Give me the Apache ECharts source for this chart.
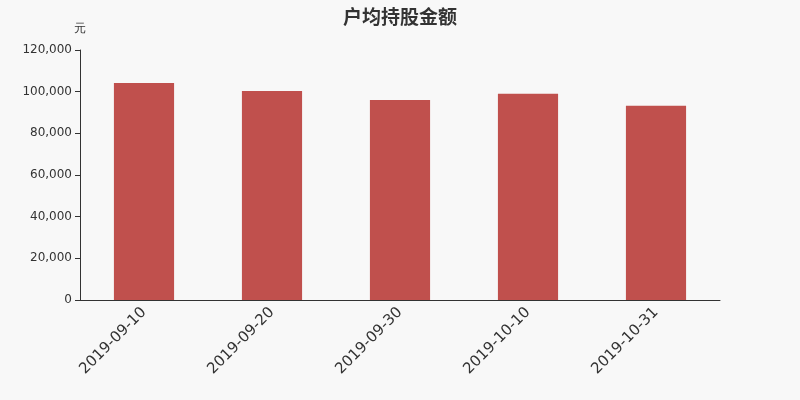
<!DOCTYPE html>
<html><head><meta charset="utf-8">
<script src="https://cdn.jsdelivr.net/npm/echarts@6/dist/echarts.min.js"></script>
<style>html,body{margin:0;padding:0;background:#f8f8f8;}#c{width:800px;height:400px;}</style>
</head><body><div id="c"></div>
<script>
const categories = ['2019-09-10','2019-09-20','2019-09-30','2019-10-10','2019-10-31'];
const values = [104200, 100300, 96000, 99000, 93200];
const chart = echarts.init(document.getElementById('c'));
chart.setOption({
  backgroundColor: '#f8f8f8',
  title: { text: '户均持股金额', left: 'center', top: 2, textStyle: { fontSize: 19, fontWeight: 'bold', color: '#333', fontFamily: 'Noto Sans CJK SC' } },
  grid: { left: 80, right: 80, top: 50, bottom: 100 },
  xAxis: {
    type: 'category', data: categories,
    axisLine: { lineStyle: { color: '#333' } },
    axisTick: { lineStyle: { color: '#333' } },
    axisLabel: { rotate: 45, fontSize: 15, color: '#333', margin: 10, fontFamily: 'DejaVu Sans' }
  },
  yAxis: {
    type: 'value', min: 0, max: 120000, interval: 20000,
    name: '元', nameGap: 15, nameTextStyle: { color: '#333', fontSize: 12, align: 'center' },
    axisLine: { show: true, lineStyle: { color: '#333' } },
    axisTick: { show: true, lineStyle: { color: '#333' } },
    splitLine: { show: false },
    axisLabel: { color: '#333', fontSize: 12, fontFamily: 'DejaVu Sans', formatter: v => v.toLocaleString('en-US') }
  },
  series: [{ type: 'bar', data: values, barWidth: '47%', itemStyle: { color: '#c0504d' } }]
});
</script></body></html>
